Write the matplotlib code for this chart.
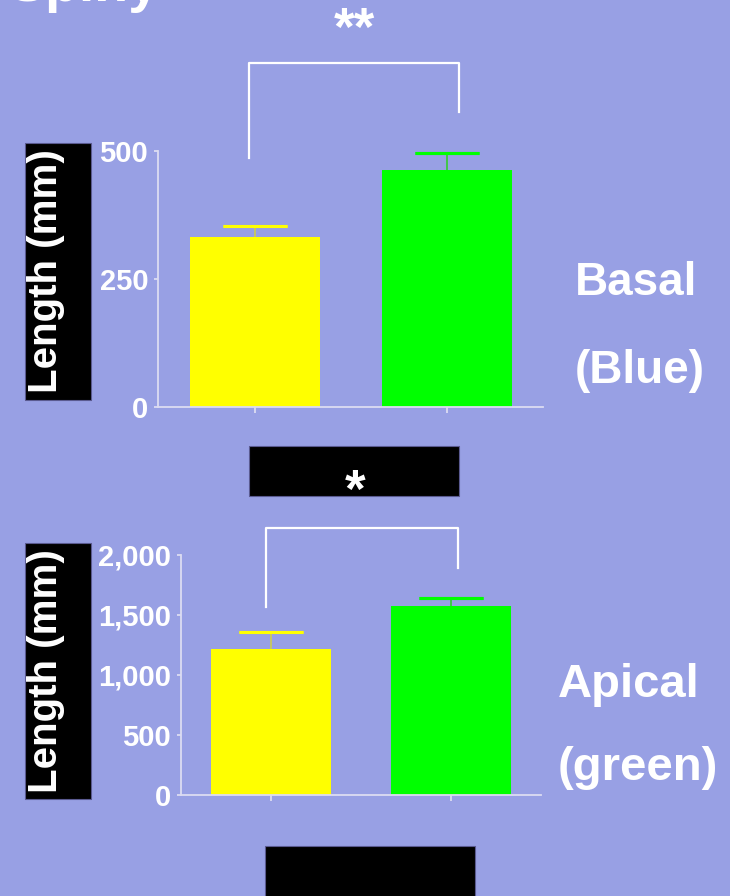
import matplotlib
matplotlib.use("Agg")
import matplotlib.pyplot as plt
from matplotlib.patches import Rectangle
from matplotlib.ticker import FuncFormatter

# ---- data ----
groups = ["Control", "Treated"]
bar_colors = ["#ffff00", "#00ff00"]
stem_colors = ["#c8c85a", "#3cc83c"]

basal_means = [332, 463]
basal_sems = [22, 34]
basal_ticks = [0, 250, 500]

apical_means = [1217, 1578]
apical_sems = [141, 64]
apical_ticks = [0, 500, 1000, 1500, 2000]

ylabel = "Length (mm)"
basal_label = ["Basal", "(Blue)"]
apical_label = ["Apical", "(green)"]
basal_sig = "**"
apical_sig = "*"
title_fragment = "Spiny"

BG = "#98a0e4"
AX = "#dcdcf2"
W, H = 730, 896

plt.rcParams["font.family"] = ["Liberation Sans", "DejaVu Sans"]
fig = plt.figure(figsize=(W / 100, H / 100), dpi=100, facecolor=BG)


def fx(px):
    return px / W


def fy(py):
    return 1 - py / H


def make_axes(left, right, top, bottom):
    return fig.add_axes([fx(left), fy(bottom), fx(right) - fx(left), (bottom - top) / H])


def style(ax, ticks, fmt=None):
    ax.set_facecolor("none")
    for s in ["top", "right"]:
        ax.spines[s].set_visible(False)
    for s in ["left", "bottom"]:
        ax.spines[s].set_color(AX)
        ax.spines[s].set_linewidth(1.3)
    ax.set_yticks(ticks)
    if fmt:
        ax.yaxis.set_major_formatter(FuncFormatter(fmt))
    ax.tick_params(axis="y", colors=AX, length=3, width=1.3, pad=4,
                   labelsize=21, labelcolor="white")
    for t in ax.get_yticklabels():
        t.set_fontweight("bold")
    ax.set_xticks(range(len(groups)))
    ax.set_xticklabels([])
    ax.tick_params(axis="x", colors=AX, length=4, width=1.3)


def draw_bars(ax, means, sems, width):
    x = list(range(len(means)))
    ax.bar(x, means, width=width, color=bar_colors, zorder=2)
    for i in x:
        ax.errorbar(i, means[i], yerr=[[0], [sems[i]]], fmt="none",
                    ecolor=stem_colors[i], elinewidth=1.3, capsize=0, zorder=3)
        ax.errorbar(i, means[i] + sems[i], yerr=[[0], [0]], fmt="none",
                    ecolor=bar_colors[i], capsize=23, capthick=2.2, zorder=4)


# ---- top (basal) ----
ax1 = make_axes(158, 543, 151, 407)
ax1.set_xlim(-0.505, 1.5)
ax1.set_ylim(0, 500)
style(ax1, basal_ticks)
draw_bars(ax1, basal_means, basal_sems, 0.677)
ax1.plot([-0.03, -0.03, 1.06, 1.06], [486, 672, 672, 576], color="white",
         lw=1.6, clip_on=False)

# ---- bottom (apical) ----
ax2 = make_axes(181, 541, 555, 795)
ax2.set_xlim(-0.5, 1.5)
ax2.set_ylim(0, 2000)
style(ax2, apical_ticks, lambda v, p: f"{int(v):,}")
draw_bars(ax2, apical_means, apical_sems, 0.667)
ax2.plot([-0.03, -0.03, 1.04, 1.04], [1567, 2225, 2225, 1892], color="white",
         lw=1.6, clip_on=False)

# ---- black boxes ----
def box(x0, y0, x1, y1):
    fig.patches.append(Rectangle((fx(x0), fy(y1)), fx(x1) - fx(x0), (y1 - y0) / H,
                                 transform=fig.transFigure, facecolor="black",
                                 edgecolor="#5a5a90", lw=0.8, zorder=0))

box(25, 143, 91, 400)
box(25, 543, 91, 799)
box(249, 446, 459, 496)
box(265, 846, 475, 900)

fig.text(fx(46), fy(271), ylabel, rotation=90, ha="center", va="center",
         color="white", fontsize=29, fontweight="bold")
fig.text(fx(46), fy(671), ylabel, rotation=90, ha="center", va="center",
         color="white", fontsize=29, fontweight="bold")

# significance stars
fig.text(fx(354), fy(45), basal_sig, ha="center", va="baseline",
         color="white", fontsize=38, fontweight="bold")
fig.text(fx(355), fy(507), apical_sig, ha="center", va="baseline",
         color="white", fontsize=38, fontweight="bold")

# ---- side labels ----
fig.text(fx(636), fy(295), basal_label[0], ha="center", va="baseline",
         color="white", fontsize=33, fontweight="bold")
fig.text(fx(640), fy(383), basal_label[1], ha="center", va="baseline",
         color="white", fontsize=33, fontweight="bold")
fig.text(fx(629), fy(697), apical_label[0], ha="center", va="baseline",
         color="white", fontsize=34, fontweight="bold")
fig.text(fx(638), fy(780), apical_label[1], ha="center", va="baseline",
         color="white", fontsize=34, fontweight="bold")

# ---- clipped title fragment ----
fig.text(fx(8), fy(1), title_fragment, ha="left", va="baseline",
         color="white", fontsize=40, fontweight="bold")

fig.savefig("out.png", dpi=100, facecolor=BG)
